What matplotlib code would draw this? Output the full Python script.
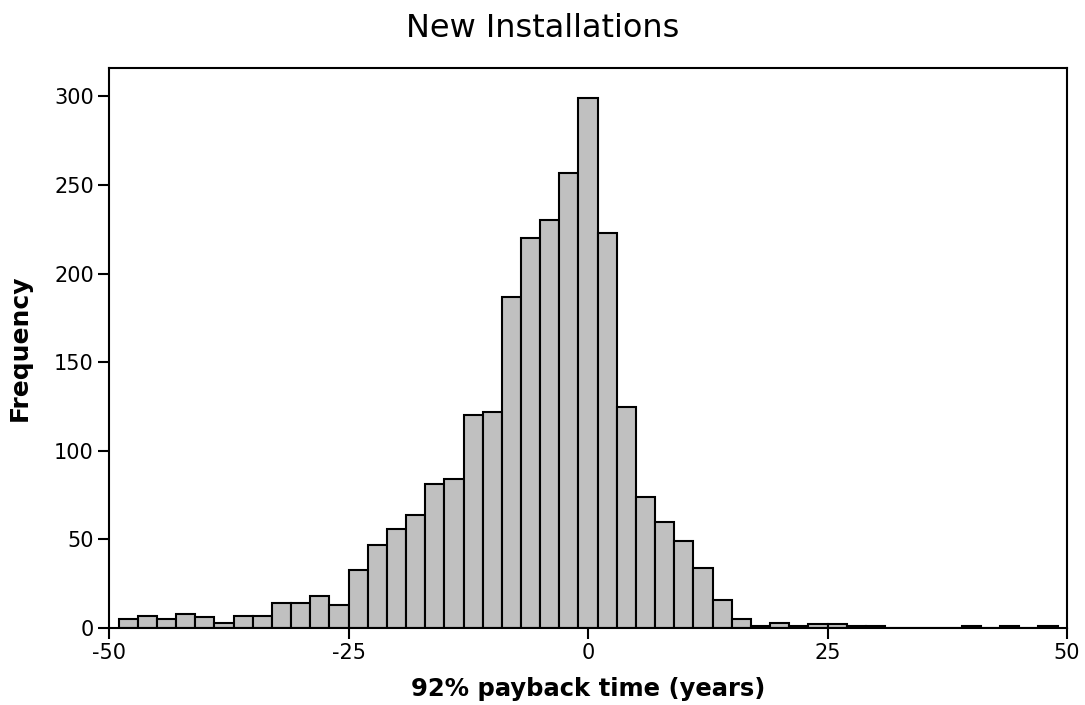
import matplotlib.pyplot as plt
import numpy as np

# bin centres (years), bins are 2 years wide
bin_centres = list(range(-48, 50, 2))
counts = [5, 7, 5, 8, 6, 3, 7, 7, 14, 14, 18, 13,
          33, 47, 56, 64, 81, 84, 120, 122, 187, 220, 230, 257,
          299, 223, 125, 74, 60, 49, 34, 16, 5,
          1, 3, 1, 2, 2, 1, 1, 0, 0, 0, 0, 1, 0, 1, 0, 1]

x_ticks = [-50, -25, 0, 25, 50]
y_ticks = [0, 50, 100, 150, 200, 250, 300]

plt.rcParams['font.family'] = ['DejaVu Sans']
plt.rcParams['axes.unicode_minus'] = False

fig = plt.figure(figsize=(10.85, 7.05), dpi=100)
ax = fig.add_axes([0.1005, 0.1092, 0.883, 0.7943])

ax.bar(bin_centres, counts, width=2, align="center", color="#c0c0c0",
       edgecolor="black", linewidth=1.5)

ax.set_xlim(-50, 50)
ax.set_ylim(0, 316)
ax.set_xticks(x_ticks)
ax.set_yticks(y_ticks)
ax.tick_params(direction="out", length=8, width=1.5, labelsize=15, pad=3)

for s in ax.spines.values():
    s.set_linewidth(1.5)

ax.set_xlabel("92% payback time (years)", fontsize=17.5, fontweight="bold", labelpad=10)
ax.set_ylabel("Frequency", fontsize=18, fontweight="bold", labelpad=16)
fig.text(0.5, 0.96, "New Installations", fontsize=23, ha="center", va="center")

plt.savefig("out.png", dpi=100)
plt.close()
